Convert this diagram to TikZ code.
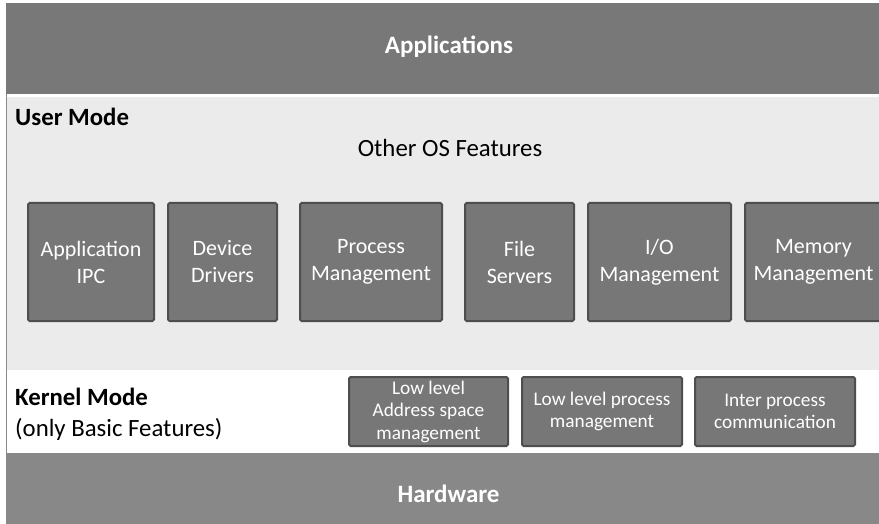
\documentclass[tikz,border=0pt]{standalone}
\usepackage{fontspec}
\setmainfont{Carlito}
\definecolor{bandgray}{HTML}{787878}
\definecolor{hwgray}{HTML}{888888}
\definecolor{usergray}{HTML}{EBEBEB}
\definecolor{boxgray}{HTML}{777777}
\definecolor{boxedge}{HTML}{4E4E4E}
\definecolor{edgegray}{HTML}{8A8A8A}
\tikzset{
  featbox/.style={draw=boxedge, line width=2pt, fill=boxgray, rounded corners=1.5pt,
    text=white, align=center, inner sep=0pt,
    font=\fontsize{22}{27}\selectfont},
  kernbox/.style={featbox, font=\fontsize{19.3}{22.5}\selectfont},
  bandtext/.style={text=white, font=\fontsize{25}{30}\selectfont\bfseries},
  modetext/.style={anchor=west, inner sep=0pt, font=\fontsize{24.8}{30}\selectfont}
}
\begin{document}
\begin{tikzpicture}[x=1pt, y=-1pt]
\useasboundingbox (0,0) rectangle (879,524);
\clip (0,0) rectangle (879,524);
% layers
\fill[bandgray] (6,3) rectangle (879,94);
\fill[usergray] (6,97) rectangle (879,370);
\fill[white] (6,370) rectangle (879,453);
\fill[hwgray] (6,453) rectangle (879,524);
\draw[edgegray, line width=1.2pt] (6.6,94) -- (6.6,453);
% layer labels
\node[bandtext] (apps) at (449,47) {Applications};
\node[bandtext] (hw) at (448.5,494) {Hardware};
\node[modetext, font=\fontsize{24.8}{30}\selectfont\bfseries] (user) at (15,117) {User Mode};
\node[font=\fontsize{24.8}{30}\selectfont] (other) at (450,148) {Other OS Features};
\node[modetext, font=\fontsize{24.8}{30}\selectfont\bfseries] (kernel) at (15,397) {Kernel Mode};
\node[modetext] (basic) at (15,429) {(only Basic Features)};
% user mode features
\node[featbox, minimum width=126pt, minimum height=118pt] (ipc) at (91,262) {Application\\IPC};
\node[featbox, minimum width=109pt, minimum height=118pt] (drv) at (222.5,262) {Device\\Drivers};
\node[featbox, minimum width=142pt, minimum height=118pt] (proc) at (371,262) {Process\\Management};
\node[featbox, minimum width=109pt, minimum height=118pt] (fs) at (519.5,262) {File\\Servers};
\node[featbox, minimum width=143pt, minimum height=118pt] (io) at (659.5,262) {I/O\\Management};
\node[featbox, minimum width=137pt, minimum height=118pt] (mem) at (813.5,262) {Memory\\Management};
% kernel mode features
\node[kernbox, minimum width=159pt, minimum height=69pt] (addr) at (428.5,411.5) {Low level\\Address space\\management};
\node[kernbox, minimum width=160pt, minimum height=69pt] (lproc) at (602,411.5) {Low level process\\management};
\node[kernbox, minimum width=160pt, minimum height=69pt] (ipcomm) at (775,411.5) {Inter process\\communication};
\end{tikzpicture}
\end{document}
